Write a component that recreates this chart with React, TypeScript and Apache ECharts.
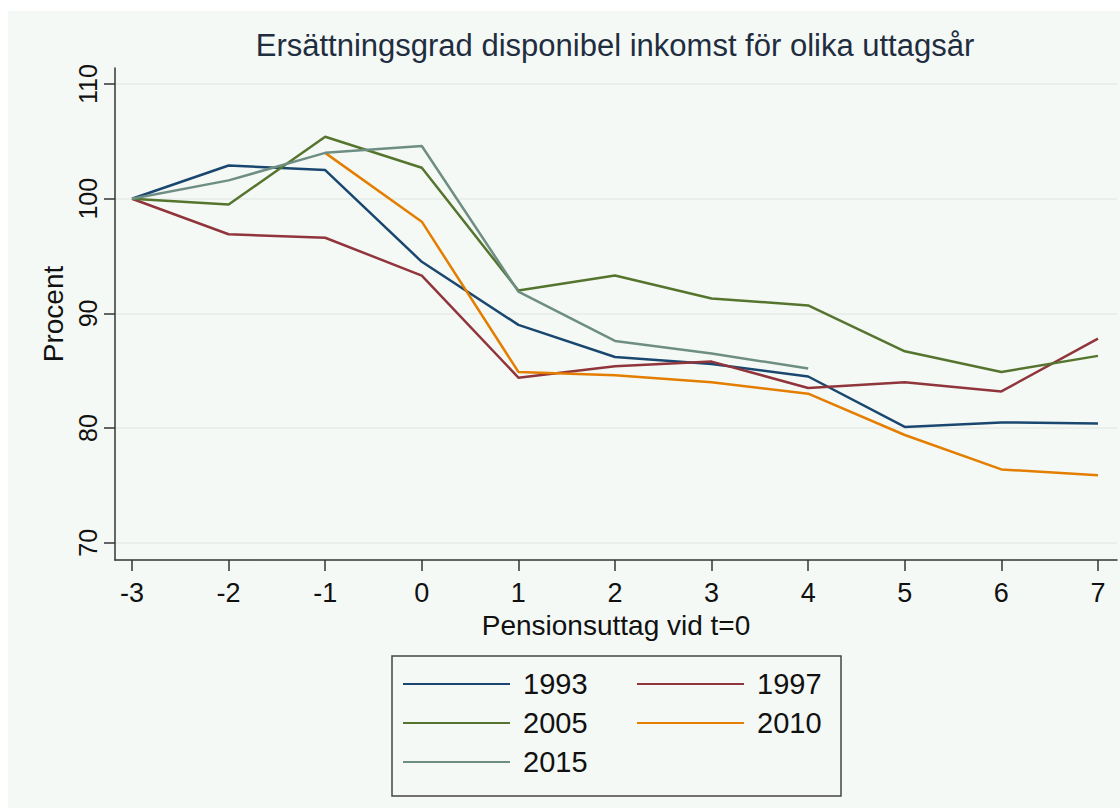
import React, { useEffect, useRef } from "react";
import * as echarts from "echarts";

const xTicks = [-3, -2, -1, 0, 1, 2, 3, 4, 5, 6, 7];
const yTicks = [70, 80, 90, 100, 110];

const years = ["1993", "1997", "2005", "2010", "2015"];
const colors = ["#1a476f", "#90353b", "#55752f", "#e37e00", "#6e8e84"];

const x1993 = [-3, -2, -1, 0, 1, 2, 3, 4, 5, 6, 7];
const v1993 = [100, 102.9, 102.5, 94.5, 89.0, 86.2, 85.6, 84.5, 80.1, 80.5, 80.4];
const x1997 = [-3, -2, -1, 0, 1, 2, 3, 4, 5, 6, 7];
const v1997 = [100, 96.9, 96.6, 93.3, 84.4, 85.4, 85.8, 83.5, 84.0, 83.2, 87.8];
const x2005 = [-3, -2, -1, 0, 1, 2, 3, 4, 5, 6, 7];
const v2005 = [100, 99.5, 105.4, 102.7, 92.0, 93.3, 91.3, 90.7, 86.7, 84.9, 86.3];
const x2010 = [-1, 0, 1, 2, 3, 4, 5, 6, 7];
const v2010 = [104.0, 98.0, 84.9, 84.6, 84.0, 83.0, 79.4, 76.4, 75.9];
const x2015 = [-3, -2, -1, 0, 1, 2, 3, 4];
const v2015 = [100, 101.6, 104.0, 104.6, 91.9, 87.6, 86.5, 85.2];

const xs = [x1993, x1997, x2005, x2010, x2015];
const vs = [v1993, v1997, v2005, v2010, v2015];

const BG = "#f5f9f5";
const FONT = "Liberation Sans, Arial, sans-serif";

export default function App() {
  const ref = useRef<HTMLDivElement>(null);
  useEffect(() => {
    if (!ref.current) return;
    const chart = echarts.init(ref.current, undefined, { renderer: "svg" });
    chart.setOption({
      animation: false,
      backgroundColor: BG,
      textStyle: { fontFamily: FONT },
      grid: { left: 107, right: 3, top: 57, bottom: 248, containLabel: false },
      xAxis: {
        type: "value",
        min: -3.176,
        max: 7.197,
        name: "Pensionsuttag vid t=0",
        nameLocation: "middle",
        nameGap: 51,
        nameTextStyle: { fontSize: 28, color: "#111", fontFamily: FONT },
        axisLine: { show: true, onZero: false, lineStyle: { color: "#333", width: 1.5 } },
        axisTick: { show: true, length: 11, lineStyle: { color: "#333", width: 1.5 }, customValues: xTicks },
        axisLabel: { fontSize: 27, color: "#111", margin: 19, customValues: xTicks, formatter: (v: number) => String(v) },
        splitLine: { show: false },
      },
      yAxis: {
        type: "value",
        min: 68.5,
        max: 111.4,
        name: "Procent",
        nameLocation: "middle",
        nameGap: 46,
        nameTextStyle: { fontSize: 28, color: "#111", fontFamily: FONT },
        axisLine: { show: true, onZero: false, lineStyle: { color: "#333", width: 1.5 } },
        axisTick: { show: true, length: 11, lineStyle: { color: "#333", width: 1.5 }, customValues: yTicks },
        axisLabel: { fontSize: 25, color: "#111", margin: 15, rotate: 90, customValues: yTicks },
        splitLine: { show: true, lineStyle: { color: "#e6ebe7", width: 1.5 } },
      },
      legend: {
        left: 395,
        top: 653.5,
        width: 480,
        padding: 0,
        itemGap: 0,
        itemWidth: 107,
        itemHeight: 2,
        icon: "rect",
        data: years,
        textStyle: { fontSize: 29, color: "#111", lineHeight: 39, padding: [0, 0, 0, 8], width: 114, fontFamily: FONT },
      },
      graphic: [
        {
          type: "rect",
          shape: { x: 384, y: 645, width: 449, height: 140 },
          style: { fill: BG, stroke: "#444", lineWidth: 1.5 },
          z: -1,
          silent: true,
        },
        {
          type: "text",
          x: 607,
          y: 34,
          style: {
            text: "Ersättningsgrad disponibel inkomst för olika uttagsår",
            font: `31px ${FONT}`,
            fill: "#1f2d40",
            textAlign: "center",
            textVerticalAlign: "middle",
          },
        },
      ],
      series: years.map((y, i) => ({
        name: y,
        type: "line",
        symbol: "none",
        showSymbol: false,
        color: colors[i],
        lineStyle: { width: 2.5, color: colors[i] },
        data: xs[i].map((x, j) => [x, vs[i][j]]),
      })),
    });
    return () => chart.dispose();
  }, []);
  return (
    <div
      ref={ref}
      style={{ position: "absolute", left: 8, top: 11, width: 1112, height: 797 }}
    />
  );
}
